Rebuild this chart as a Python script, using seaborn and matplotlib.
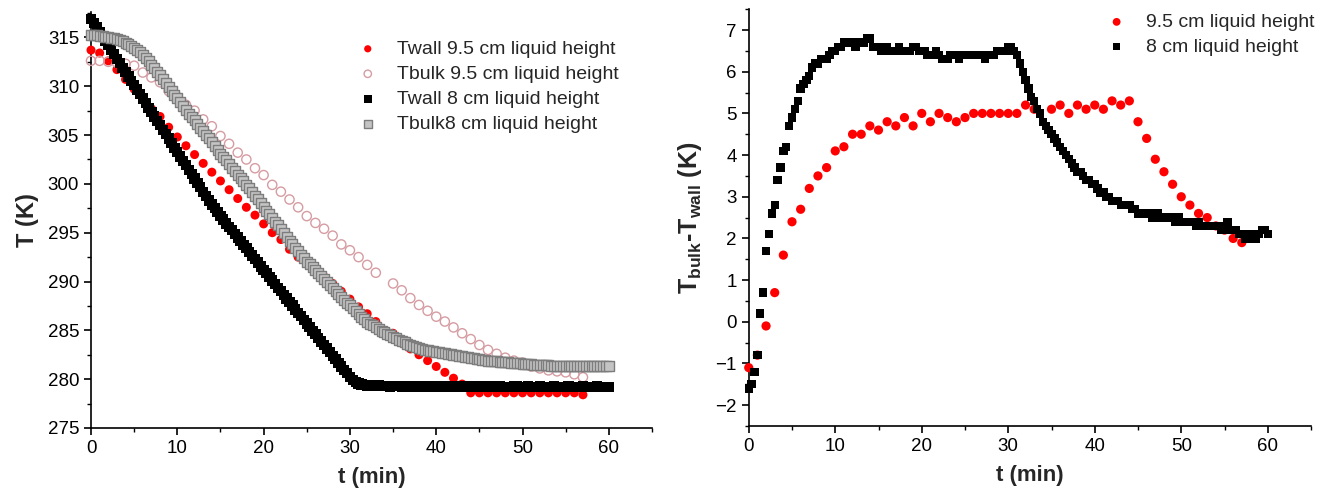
import numpy as np
import matplotlib
matplotlib.use("Agg")
import matplotlib.pyplot as plt
import seaborn as sns
from matplotlib.ticker import MultipleLocator

# ---------------- data ----------------
# 9.5 cm liquid height: one reading per minute (t = 34 min missing)
t_95 = [0, 1, 2, 3, 4, 5, 6, 7, 8, 9, 10, 11, 12, 13, 14, 15, 16, 17, 18, 19,
        20, 21, 22, 23, 24, 25, 26, 27, 28, 29, 30, 31, 32, 33, 35, 36, 37, 38,
        39, 40, 41, 42, 43, 44, 45, 46, 47, 48, 49, 50, 51, 52, 53, 54, 55, 56, 57]
twall_95 = [313.7, 313.4, 312.6, 311.7, 310.7, 309.7, 308.7, 307.7, 306.9, 305.8,
            304.8, 303.9, 303.0, 302.1, 301.2, 300.3, 299.4, 298.5, 297.6, 296.8,
            295.9, 295.0, 294.3, 293.3, 292.5, 291.8, 291.1, 290.5, 289.8, 289.0,
            288.2, 287.4, 286.7, 285.9, 284.7, 283.9, 283.1, 282.5, 281.9, 281.3,
            280.7, 280.1, 279.5, 278.6, 278.6, 278.6, 278.6, 278.6, 278.6, 278.6,
            278.6, 278.6, 278.6, 278.6, 278.6, 278.6, 278.4]
tbulk_95 = [312.6, 312.6, 312.5, 312.4, 312.3, 312.1, 311.4, 310.9, 310.4, 309.5,
            308.9, 308.1, 307.5, 306.6, 305.9, 304.9, 304.1, 303.2, 302.5, 301.6,
            300.9, 299.9, 299.2, 298.4, 297.6, 296.7, 296.0, 295.4, 294.7, 293.8,
            293.2, 292.5, 291.7, 290.9, 289.8, 289.1, 288.3, 287.6, 287.0, 286.4,
            285.9, 285.3, 284.7, 284.1, 283.5, 283.0, 282.6, 282.2, 281.9, 281.7,
            281.3, 281.1, 280.9, 280.8, 280.7, 280.5, 280.2]
diff_95 = [-1.1, -0.8, -0.1, 0.7, 1.6, 2.4, 2.7, 3.2, 3.5, 3.7,
           4.1, 4.2, 4.5, 4.5, 4.7, 4.6, 4.8, 4.7, 4.9, 4.7,
           5.0, 4.8, 5.0, 4.9, 4.8, 4.9, 5.0, 5.0, 5.0, 5.0,
           5.0, 5.0, 5.2, 5.1, 5.1, 5.2, 5.0, 5.2, 5.1, 5.2,
           5.1, 5.3, 5.2, 5.3, 4.8, 4.4, 3.9, 3.6, 3.3, 3.0,
           2.8, 2.6, 2.5, 2.3, 2.2, 2.0, 1.9]

# 8 cm liquid height: one reading every 20 s (0 ... 60 min, 181 readings)
t_8 = np.arange(181) / 3.0
twall_8 = [
    316.9, 316.45, 316.0, 315.55, 315.1, 314.65, 314.2, 313.75, 313.3,
    312.8, 312.35, 311.9, 311.45, 311.0, 310.55, 310.1, 309.65, 309.2,
    308.75, 308.3, 307.8, 307.35, 306.9, 306.45, 306.0, 305.55, 305.1,
    304.65, 304.2, 303.7, 303.25, 302.8, 302.35, 301.9, 301.45, 301.0,
    300.55, 300.1, 299.65, 299.2, 298.75, 298.3, 297.9, 297.5, 297.1,
    296.7, 296.35, 295.95, 295.6, 295.25, 294.85, 294.5, 294.15, 293.75,
    293.4, 293.05, 292.65, 292.3, 291.95, 291.55, 291.2, 290.85, 290.45,
    290.1, 289.75, 289.35, 289.0, 288.65, 288.25, 287.9, 287.55, 287.15,
    286.8, 286.45, 286.05, 285.7, 285.35, 284.95, 284.6, 284.25, 283.85,
    283.5, 283.15, 282.75, 282.4, 282.05, 281.65, 281.3, 280.95, 280.6,
    280.25, 279.95, 279.7, 279.55, 279.45, 279.4, 279.35, 279.35, 279.3,
    279.3, 279.35, 279.3, 279.3, 279.3, 279.25, 279.3, 279.3, 279.3,
    279.25, 279.3, 279.25, 279.25, 279.25, 279.3, 279.25, 279.25, 279.25,
    279.3, 279.25, 279.25, 279.25, 279.2, 279.25, 279.25, 279.25, 279.2,
    279.25, 279.3, 279.25, 279.2, 279.25, 279.25, 279.25, 279.2, 279.2,
    279.25, 279.2, 279.25, 279.2, 279.2, 279.25, 279.2, 279.25, 279.2,
    279.2, 279.2, 279.2, 279.25, 279.3, 279.2, 279.2, 279.2, 279.25,
    279.2, 279.2, 279.2, 279.25, 279.2, 279.2, 279.2, 279.2, 279.25,
    279.2, 279.2, 279.2, 279.2, 279.25, 279.2, 279.2, 279.2, 279.2,
    279.25, 279.2, 279.2, 279.2, 279.2, 279.25, 279.2, 279.2, 279.2,
    279.2]
tbulk_8 = [
    315.2, 315.2, 315.2, 315.15, 315.1, 315.05, 315.0, 314.95, 314.9,
    314.8, 314.7, 314.6, 314.45, 314.3, 314.15, 313.95, 313.75, 313.5,
    313.2, 312.9, 312.6, 312.2, 311.85, 311.45, 311.1, 310.7, 310.35,
    309.95, 309.55, 309.15, 308.75, 308.35, 307.95, 307.55, 307.2, 306.85,
    306.5, 306.1, 305.75, 305.4, 305.0, 304.65, 304.25, 303.85, 303.5,
    303.1, 302.75, 302.4, 302.0, 301.65, 301.3, 300.95, 300.6, 300.25,
    299.9, 299.55, 299.2, 298.8, 298.4, 298.05, 297.65, 297.25, 296.9,
    296.5, 296.1, 295.75, 295.35, 294.95, 294.6, 294.2, 293.85, 293.45,
    293.1, 292.75, 292.4, 292.05, 291.75, 291.45, 291.15, 290.85, 290.55,
    290.25, 289.95, 289.65, 289.35, 289.05, 288.75, 288.45, 288.15, 287.85,
    287.55, 287.25, 286.95, 286.65, 286.4, 286.15, 285.9, 285.7, 285.5,
    285.3, 285.15, 284.95, 284.8, 284.65, 284.5, 284.35, 284.2, 284.05,
    283.9, 283.8, 283.65, 283.5, 283.4, 283.3, 283.2, 283.1, 283.0,
    282.95, 282.9, 282.85, 282.8, 282.75, 282.7, 282.65, 282.6, 282.55,
    282.5, 282.45, 282.4, 282.35, 282.3, 282.25, 282.2, 282.15, 282.1,
    282.05, 282.0, 281.95, 281.9, 281.9, 281.85, 281.85, 281.8, 281.8,
    281.75, 281.75, 281.7, 281.7, 281.65, 281.65, 281.6, 281.6, 281.55,
    281.55, 281.5, 281.5, 281.5, 281.45, 281.45, 281.45, 281.4, 281.4,
    281.4, 281.4, 281.35, 281.35, 281.35, 281.35, 281.3, 281.3, 281.3,
    281.3, 281.3, 281.3, 281.3, 281.3, 281.3, 281.3, 281.3, 281.3,
    281.3]
diff_8 = [
    -1.6, -1.5, -1.2, -0.8, 0.2, 0.7, 1.7, 2.1, 2.6,
    2.8, 3.4, 3.7, 4.1, 4.2, 4.7, 4.9, 5.1, 5.3,
    5.6, 5.7, 5.8, 5.9, 6.1, 6.2, 6.2, 6.3, 6.3,
    6.3, 6.4, 6.5, 6.5, 6.6, 6.6, 6.7, 6.7, 6.7,
    6.7, 6.6, 6.7, 6.7, 6.7, 6.8, 6.8, 6.6, 6.6,
    6.6, 6.5, 6.6, 6.6, 6.5, 6.5, 6.5, 6.6, 6.5,
    6.5, 6.5, 6.5, 6.6, 6.6, 6.5, 6.5, 6.5, 6.4,
    6.4, 6.4, 6.5, 6.4, 6.3, 6.3, 6.3, 6.4, 6.4,
    6.4, 6.3, 6.4, 6.4, 6.4, 6.4, 6.4, 6.4, 6.4,
    6.4, 6.3, 6.4, 6.4, 6.4, 6.5, 6.5, 6.5, 6.5,
    6.6, 6.6, 6.5, 6.4, 6.2, 6.0, 5.8, 5.6, 5.4,
    5.3, 5.1, 5.0, 4.8, 4.7, 4.6, 4.5, 4.4, 4.3,
    4.2, 4.1, 4.0, 3.9, 3.8, 3.7, 3.6, 3.6, 3.5,
    3.4, 3.4, 3.3, 3.3, 3.2, 3.1, 3.1, 3.0, 3.0,
    2.9, 2.9, 2.9, 2.8, 2.8, 2.8, 2.8, 2.7, 2.7,
    2.6, 2.6, 2.6, 2.6, 2.6, 2.5, 2.5, 2.6, 2.5,
    2.5, 2.5, 2.5, 2.5, 2.4, 2.5, 2.4, 2.4, 2.4,
    2.4, 2.4, 2.3, 2.4, 2.3, 2.3, 2.3, 2.3, 2.3,
    2.3, 2.3, 2.2, 2.3, 2.4, 2.2, 2.2, 2.2, 2.1,
    2.1, 2.0, 2.0, 2.1, 2.1, 2.0, 2.1, 2.2, 2.2,
    2.1]

legend_left = ["Twall 9.5 cm liquid height", "Tbulk 9.5 cm liquid height",
               "Twall 8 cm liquid height", "Tbulk8 cm liquid height"]
legend_right = ["9.5 cm liquid height", "8 cm liquid height"]

# ---------------- style ----------------
sns.set_style("ticks")
plt.rcParams["font.family"] = ["Liberation Sans", "DejaVu Sans"]
plt.rcParams["mathtext.fontset"] = "custom"
plt.rcParams["mathtext.rm"] = "Liberation Sans"
plt.rcParams["mathtext.bf"] = "Liberation Sans:bold"
plt.rcParams["mathtext.it"] = "Liberation Sans:italic"

RED = "#ff0000"
PINK = "#d59ca2"
GREY = "#7d7d7d"

W, H = 1328, 497
fig = plt.figure(figsize=(W / 100, H / 100), dpi=100)
ax1 = fig.add_axes([91 / W, (H - 428) / H, 561 / W, 416 / H])
ax2 = fig.add_axes([748.75 / W, (H - 426) / H, 562.25 / W, 416.8 / H])

# ---------------- left panel ----------------
sns.scatterplot(x=t_95, y=twall_95, ax=ax1, marker="o", s=42, color=RED,
                edgecolor="none", label=legend_left[0], clip_on=False, zorder=3)
sns.scatterplot(x=t_95, y=tbulk_95, ax=ax1, marker="o", s=44, facecolor="none",
                edgecolor=PINK, linewidth=1.0, label=legend_left[1], clip_on=False, zorder=3)
sns.scatterplot(x=t_8, y=twall_8, ax=ax1, marker="s", s=55, color="black",
                edgecolor="none", label=legend_left[2], clip_on=False, zorder=3)
sns.scatterplot(x=t_8, y=tbulk_8, ax=ax1, marker="s", s=44, facecolor="#c4c4c4",
                edgecolor=GREY, linewidth=1.0, label=legend_left[3], clip_on=False, zorder=3)

ax1.set_xlim(0, 65)
ax1.set_ylim(275, 317.6)
ax1.xaxis.set_major_locator(MultipleLocator(10))
ax1.xaxis.set_minor_locator(MultipleLocator(5))
ax1.yaxis.set_major_locator(MultipleLocator(5))
ax1.yaxis.set_minor_locator(MultipleLocator(2.5))
ax1.set_xlabel("t (min)", fontsize=16, fontweight="bold", labelpad=7)
ax1.set_ylabel("T (K)", fontsize=17, fontweight="bold", labelpad=6)
ax1.legend(loc="upper left", bbox_to_anchor=(0.476, 0.932), frameon=False,
           fontsize=14, handlelength=1.0, handletextpad=1.0, labelspacing=0.38,
           borderpad=0, borderaxespad=0, markerscale=0.8)

# ---------------- right panel ----------------
sns.scatterplot(x=t_95, y=diff_95, ax=ax2, marker="o", s=44, color=RED,
                edgecolor="none", label=legend_right[0], clip_on=False, zorder=3)
sns.scatterplot(x=t_8, y=diff_8, ax=ax2, marker="s", s=36, color="black",
                edgecolor="none", label=legend_right[1], clip_on=False, zorder=3)

ax2.set_xlim(0, 65)
ax2.set_ylim(-2.5, 7.5)
ax2.xaxis.set_major_locator(MultipleLocator(10))
ax2.xaxis.set_minor_locator(MultipleLocator(5))
ax2.yaxis.set_major_locator(MultipleLocator(1))
ax2.yaxis.set_minor_locator(MultipleLocator(0.5))
ax2.set_xlabel("t (min)", fontsize=16, fontweight="bold", labelpad=7)
ax2.set_ylabel(r"T$_{\mathbf{bulk}}$-T$_{\mathbf{wall}}$ (K)", fontsize=18,
               fontweight="bold", labelpad=8)
ax2.legend(loc="upper left", bbox_to_anchor=(0.637, 0.99), frameon=False,
           fontsize=14, handlelength=1.0, handletextpad=1.0, labelspacing=0.38,
           borderpad=0, borderaxespad=0, markerscale=0.85)

for ax in (ax1, ax2):
    sns.despine(ax=ax)
    for side in ("left", "bottom"):
        ax.spines[side].set_linewidth(1.2)
        ax.spines[side].set_color("black")
    ax.tick_params(which="major", direction="out", length=5, width=1.2,
                   labelsize=13.5, colors="black")
    ax.tick_params(which="minor", direction="out", length=3, width=1.0,
                   colors="black")

fig.savefig("out.png", dpi=100)
